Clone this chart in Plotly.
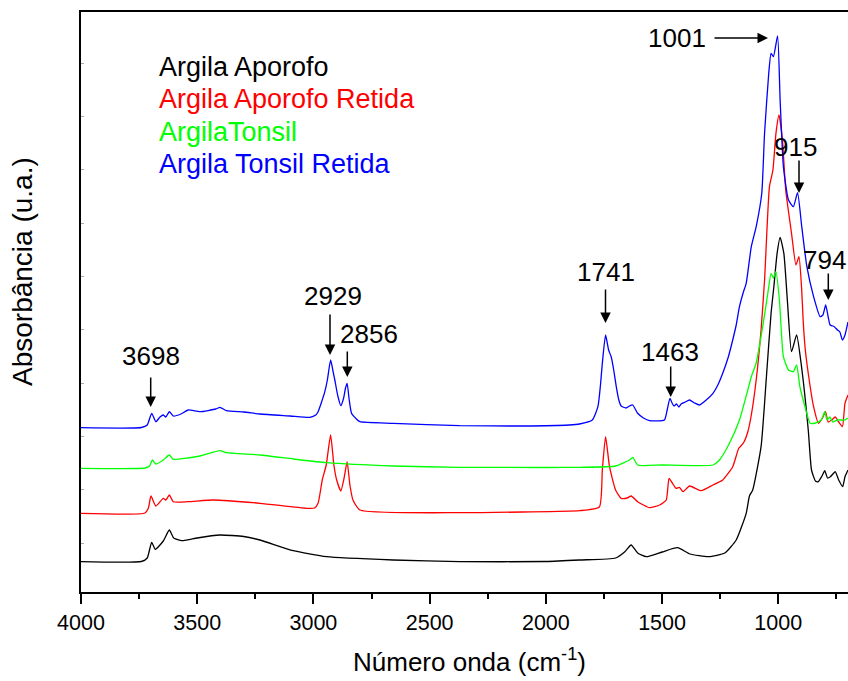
import plotly.graph_objects as go

# ---------------- data (wavenumber cm-1, absorbance a.u.) ----------------
series_names = ["Argila Aporofo", "Argila Aporofo Retida", "ArgilaTonsil", "Argila Tonsil Retida"]
series_colors = ["#000000", "#FF0000", "#00FF00", "#0000FF"]

wn_aporofo = [4000, 3740, 3715, 3696, 3680, 3646, 3620, 3600, 3560, 3500, 3402, 3300, 3230, 3087, 2944,
              2657, 2371, 2000, 1855, 1700, 1660, 1633, 1605, 1568, 1500, 1433, 1380, 1300, 1230, 1181,
              1138, 1124, 1110, 1074, 1052, 1031, 1019, 1005, 992, 976, 961, 943, 921, 900, 871, 857,
              840, 828, 812, 800, 788, 776, 765, 755, 740, 723, 713, 700]
ab_aporofo = [3.03, 3.05, 3.4, 4.97, 4.27, 5.1, 6.2, 5.37, 5.13, 5.4, 5.7, 5.55, 5.2, 4.13, 3.53,
              3.2, 3.03, 3.05, 3.2, 3.4, 4.03, 4.7, 3.9, 3.53, 4.0, 4.43, 3.8, 3.53, 3.9, 5.2,
              7.87, 9.6, 10.2, 14.53, 21.2, 27.87, 30.53, 33.87, 35.47, 33.87, 29.2, 24.03, 25.7, 22.53, 16.2, 12.2,
              11.1, 11.03, 11.6, 12.13, 11.4, 11.53, 11.8, 12.03, 11.2, 10.53, 11.53, 12.2]

wn_aporofo_ret = [4000, 3725, 3710, 3699, 3678, 3646, 3635, 3620, 3603, 3540, 3431, 3230, 3030, 2995, 2980,
                  2962, 2945, 2926, 2912, 2900, 2882, 2868, 2855, 2843, 2830, 2800, 2371, 2100, 1855, 1770,
                  1757, 1743, 1726, 1700, 1676, 1650, 1633, 1605, 1554, 1510, 1482, 1470, 1455, 1440, 1425,
                  1410, 1382, 1332, 1281, 1239, 1196, 1170, 1150, 1131, 1116, 1095, 1074, 1059, 1038, 1023,
                  1010, 997, 982, 968, 943, 924, 911, 900, 893, 885, 870, 848, 827, 810, 797, 785, 770,
                  755, 740, 724, 713, 700]
ab_aporofo_ret = [7.87, 7.9, 8.4, 9.6, 8.6, 9.37, 9.2, 9.7, 9.03, 9.03, 9.2, 8.87, 8.37, 8.4, 8.87,
                  11.2, 12.7, 15.7, 12.7, 11.2, 10.1, 11.4, 13.03, 10.7, 9.2, 8.2, 7.93, 8.0, 8.13, 8.5,
                  12.2, 15.53, 12.53, 10.2, 9.37, 9.4, 9.6, 9.03, 8.43, 8.7, 9.2, 11.37, 10.87, 10.37, 10.47,
                  10.03, 10.6, 10.13, 10.7, 11.2, 12.53, 14.37, 14.9, 16.03, 17.7, 21.2, 26.2, 31.2, 40.53, 42.2,
                  45.87, 47.7, 45.2, 40.2, 35.87, 32.7, 33.53, 30.53, 27.2, 24.53, 21.7, 18.53, 16.87, 17.4, 18.03, 17.0, 17.2,
                  17.5, 17.0, 16.53, 18.87, 19.7]

wn_tonsil = [4000, 3725, 3705, 3693, 3678, 3646, 3620, 3603, 3540, 3488, 3402, 3374, 3230, 3087, 2944,
             2657, 2371, 2000, 1855, 1700, 1640, 1626, 1605, 1500, 1281, 1253, 1210, 1167, 1131, 1116,
             1095, 1067, 1045, 1031, 1021, 1010, 995, 978, 956, 935, 921, 907, 885, 863, 840, 815,
             800, 790, 778, 765, 745, 713, 700]
ab_tonsil = [12.37, 12.4, 12.6, 13.2, 12.8, 13.2, 13.7, 13.27, 13.4, 13.6, 14.13, 13.93, 13.7, 13.3, 12.93,
             12.6, 12.47, 12.45, 12.47, 12.6, 13.2, 13.47, 12.7, 12.7, 12.7, 13.2, 14.87, 17.2, 20.2, 21.53,
             22.9, 26.53, 29.87, 31.87, 31.4, 32.03, 29.2, 23.53, 22.2, 22.03, 22.7, 20.53, 18.53, 16.87, 16.9, 17.2,
             18.03, 17.2, 17.5, 17.0, 17.2, 17.2, 17.4]

wn_tonsil_ret = [4000, 3740, 3715, 3696, 3678, 3660, 3646, 3635, 3620, 3603, 3570, 3539, 3488, 3420, 3402,
                 3374, 3300, 3230, 3100, 3015, 2990, 2980, 2965, 2951, 2940, 2926, 2915, 2908, 2895, 2882,
                 2870, 2862, 2855, 2846, 2836, 2815, 2800, 2657, 2371, 2100, 1900, 1855, 1800, 1776, 1765,
                 1757, 1743, 1730, 1719, 1708, 1697, 1686, 1676, 1655, 1640, 1626, 1605, 1580, 1554, 1490,
                 1478, 1466, 1455, 1448, 1438, 1428, 1418, 1400, 1382, 1360, 1339, 1310, 1281, 1260, 1239,
                 1215, 1196, 1181, 1167, 1150, 1138, 1116, 1095, 1071, 1059, 1041, 1031, 1021, 1003, 992,
                 978, 956, 935, 917, 899, 877, 848, 820, 808, 796, 786, 777, 765, 759, 745, 735, 724, 713, 700]
ab_tonsil_ret = [16.43, 16.45, 16.7, 17.87, 17.03, 17.5, 17.7, 17.5, 18.03, 17.6, 17.8, 18.2, 18.03, 18.3, 18.47,
                 18.13, 18.0, 17.8, 17.6, 17.47, 17.7, 18.03, 19.0, 20.03, 21.2, 23.2, 22.0, 21.2, 19.6, 18.63,
                 19.4, 20.4, 20.87, 19.2, 17.87, 17.3, 17.03, 16.87, 16.63, 16.6, 16.7, 16.8, 17.2, 18.53, 20.7,
                 22.87, 25.7, 24.2, 23.53, 22.2, 20.53, 19.2, 18.6, 18.4, 18.6, 18.7, 17.87, 17.4, 17.13, 17.2,
                 18.2, 19.37, 18.8, 18.6, 18.8, 18.5, 18.8, 19.0, 19.2, 18.9, 18.7, 19.2, 19.87, 20.7, 21.87,
                 23.5, 25.2, 26.7, 28.53, 30.0, 30.87, 34.53, 36.53, 39.87, 45.87, 51.87, 53.87, 53.53, 55.6, 49.2,
                 42.53, 39.2, 38.53, 39.93, 36.53, 32.53, 29.53, 27.53, 27.7, 28.7, 27.6, 26.7, 26.6, 26.53, 26.2, 26.0, 25.2, 25.7, 27.0]

x_tick_vals = [4000, 3500, 3000, 2500, 2000, 1500, 1000]
x_tick_text = ["4000", "3500", "3000", "2500", "2000", "1500", "1000"]

peak_labels = ["3698", "2929", "2856", "1741", "1463", "1001", "915", "794"]

# ---------------- layout constants ----------------
W, H = 848, 681
L, R, T, B = 81, 0, 12, 89
XMIN, XMAX = 4000, 700
YMIN, YMAX = 0, 58
FONT = "Liberation Sans, Arial, Helvetica, sans-serif"

def px2wn(px):
    return XMIN - (px - L) / (W - L - R) * (XMIN - XMAX)

def py2ab(py):
    return YMIN + (H - B - py) / (H - T - B) * (YMAX - YMIN)

fig = go.Figure()
xs = [wn_aporofo, wn_aporofo_ret, wn_tonsil, wn_tonsil_ret]
ys = [ab_aporofo, ab_aporofo_ret, ab_tonsil, ab_tonsil_ret]
for name, col, x, y in zip(series_names, series_colors, xs, ys):
    fig.add_trace(go.Scatter(x=x, y=y, mode="lines", name=name,
                             line=dict(color=col, width=1.3, shape="spline", smoothing=0.5),
                             showlegend=False))

annotations = []
# legend as coloured text
legend_pos = [(157, 67), (157, 99), (157, 132), (157, 164)]
for name, col, (lx, ly) in zip(series_names, series_colors, legend_pos):
    annotations.append(dict(text=name, x=(lx - L) / (W - L - R), y=(H - B - ly) / (H - T - B),
                            xref="paper", yref="paper", xanchor="left", yanchor="middle",
                            showarrow=False, font=dict(family=FONT, size=27, color=col)))

# peak labels (text centre in pixels) and arrows (tail, tip in pixels)
label_pos = [(151, 356), (333, 296), (369, 334), (606, 272), (670, 352), (677, 38), (795, 147), (824, 260)]
arrow_pos = [((150.7, 376), (150.7, 407)), ((330, 313), (330, 355)), ((347.3, 350), (347.3, 377)),
             ((605.5, 288), (605.5, 323)), ((670.7, 365), (670.7, 397)), ((713, 38), (768, 38)),
             ((799, 159), (799, 193)), ((828.3, 272), (828.3, 300))]
for txt, (tx, ty), ((ax, ay), (hx, hy)) in zip(peak_labels, label_pos, arrow_pos):
    annotations.append(dict(text=txt, x=px2wn(tx), y=py2ab(ty), xref="x", yref="y",
                            xanchor="center", yanchor="middle", showarrow=False,
                            font=dict(family=FONT, size=26, color="black")))
    annotations.append(dict(text="", x=px2wn(hx), y=py2ab(hy), ax=px2wn(ax), ay=py2ab(ay),
                            xref="x", yref="y", axref="x", ayref="y", showarrow=True,
                            arrowhead=2, arrowsize=1.4, arrowwidth=1.5, arrowcolor="black",
                            standoff=0, startstandoff=0))

# axis titles
annotations.append(dict(text="Número onda (cm<sup>-1</sup>)", x=(469 - L) / (W - L - R),
                        y=(H - B - 660) / (H - T - B), xref="paper", yref="paper",
                        xanchor="center", yanchor="middle", showarrow=False,
                        font=dict(family=FONT, size=26, color="black")))
annotations.append(dict(text="Absorbância (u.a.)", x=(22 - L) / (W - L - R),
                        y=(H - B - 272) / (H - T - B), xref="paper", yref="paper",
                        xanchor="center", yanchor="middle", showarrow=False, textangle=-90,
                        font=dict(family=FONT, size=28, color="black")))

fig.update_layout(
    width=W, height=H, margin=dict(l=L, r=R, t=T, b=B, pad=0),
    paper_bgcolor="white", plot_bgcolor="white",
    font=dict(family=FONT, color="black"),
    annotations=annotations,
    xaxis=dict(range=[XMIN, XMAX], autorange=False, showgrid=False, zeroline=False,
               showline=True, linecolor="black", linewidth=2, mirror=True,
               ticks="outside", ticklen=10, tickwidth=2, tickcolor="black",
               tickvals=x_tick_vals, ticktext=x_tick_text,
               tickfont=dict(family=FONT, size=21.5, color="black"),
               minor=dict(ticks="outside", ticklen=5, tickwidth=2, tickcolor="black",
                          tickvals=[3750, 3250, 2750, 2250, 1750, 1250, 750], showgrid=False)),
    yaxis=dict(range=[YMIN, YMAX], autorange=False, showgrid=False, zeroline=False,
               showline=True, linecolor="black", linewidth=2, mirror=False,
               ticks="inside", ticklen=3, tickwidth=1, tickcolor="#AAAAAA",
               tick0=4.87, dtick=5.333, showticklabels=False),
)

fig.write_html("out.html")
